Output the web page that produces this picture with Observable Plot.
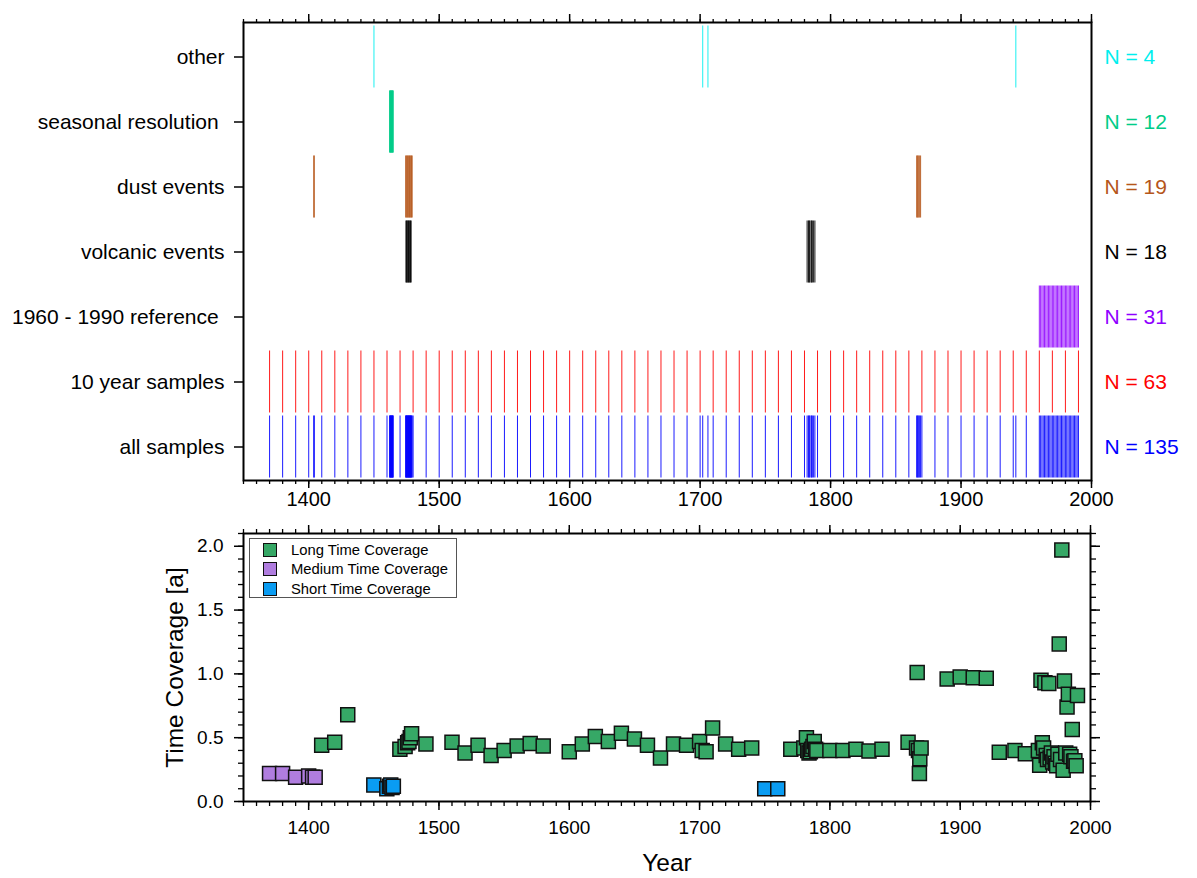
<!DOCTYPE html>
<html>
<head>
<meta charset="utf-8">
<script src="https://cdn.jsdelivr.net/npm/d3@7"></script>
<script src="https://cdn.jsdelivr.net/npm/@observablehq/plot@0.6"></script>
<style>
  html, body { margin: 0; padding: 0; background: #fff; }
  body { width: 1197px; height: 878px; position: relative; overflow: hidden; font-family: "Liberation Sans", Arial, sans-serif; }
  #topChart, #bottomChart { position: absolute; left: 0; }
  #topChart { top: 0; }
  #bottomChart { top: 520px; }
  #legend { position: absolute; left: 249px; top: 538px; width: 208px; height: 60px; border: 1px solid #555; background: #fff; box-sizing: border-box; }
  .lg { position: absolute; left: 0; height: 20px; font-size: 14.8px; line-height: 20px; color: #000; white-space: nowrap; }
  .lg .sq { position: absolute; left: 13px; top: 3px; width: 14px; height: 14px; box-sizing: border-box; border: 1.5px solid #111; }
  .lg span { position: absolute; left: 41px; top: 0; }
</style>
</head>
<body>
<div id="topChart"></div>
<div id="bottomChart"></div>
<div id="legend"></div>
<script>
// ---------- top panel data ----------
const categories = ["other", "seasonal resolution\u00a0", "dust events", "volcanic events", "1960 - 1990 reference\u00a0", "10 year samples", "all samples"];
const nLabels = ["N = 4", "N = 12", "N = 19", "N = 18", "N = 31", "N = 63", "N = 135"];
const rowColors = ["#00eeee", "#00cc88", "#b5561a", "#000000", "#8f00ff", "#ff0000", "#0000ff"];

const otherYears = [1450, 1702, 1706, 1942];
const seasonalYears = [1462, 1462.25, 1462.5, 1462.75, 1463, 1463.25, 1463.5, 1463.75, 1464, 1464.25, 1464.5, 1464.75];
const dustYears = [1403.8, 1404.3, 1474.3, 1474.8, 1475.3, 1475.8, 1476.3, 1476.8, 1477.3, 1477.8, 1478.3, 1478.8, 1479.3,
                   1866, 1866.5, 1867, 1867.6, 1868.3, 1869];
const volcanicYears = [1474.5, 1475, 1475.5, 1476, 1476.5, 1477, 1477.5, 1478, 1478.5,
                       1782, 1783, 1783.5, 1784, 1785, 1785.5, 1786, 1787, 1788];
const referenceYears = [1960, 1961, 1962, 1963, 1964, 1965, 1966, 1967, 1968, 1969, 1970, 1971, 1972, 1973, 1974, 1975,
                        1976, 1977, 1978, 1979, 1980, 1981, 1982, 1983, 1984, 1985, 1986, 1987, 1988, 1989, 1990];
const tenYearYears = [1370, 1380, 1390, 1400, 1410, 1420, 1430, 1440, 1450, 1460, 1470, 1480, 1490, 1500, 1510, 1520,
                      1530, 1540, 1550, 1560, 1570, 1580, 1590, 1600, 1610, 1620, 1630, 1640, 1650, 1660, 1670, 1680,
                      1690, 1700, 1710, 1720, 1730, 1740, 1750, 1760, 1770, 1780, 1790, 1800, 1810, 1820, 1830, 1840,
                      1850, 1860, 1870, 1880, 1890, 1900, 1910, 1920, 1930, 1940, 1950, 1960, 1970, 1980, 1990];

// ---------- bottom panel data ----------
const longYears = [1410, 1420, 1430, 1470, 1474, 1476, 1477, 1478, 1479, 1490, 1510, 1520, 1530, 1540, 1550, 1560,
                   1570, 1580, 1600, 1610, 1620, 1630, 1640, 1650, 1660, 1670, 1680, 1690, 1700, 1702, 1705, 1710,
                   1720, 1730, 1740, 1770, 1780, 1782, 1783, 1784, 1785, 1786, 1787, 1788, 1789, 1790, 1800, 1810,
                   1820, 1830, 1840, 1860, 1867, 1866.5, 1868, 1869, 1868.7, 1870, 1890, 1900, 1910, 1920, 1930,
                   1942, 1950, 1960, 1961, 1962, 1963, 1964, 1965, 1966, 1967, 1968, 1969, 1970, 1971, 1972, 1973,
                   1974, 1975, 1976, 1977, 1978, 1979, 1980, 1981, 1982, 1983, 1984, 1985, 1986, 1987, 1988, 1989, 1990];
const longValues = [0.44, 0.465, 0.68, 0.41, 0.43, 0.46, 0.47, 0.50, 0.53, 0.45, 0.465, 0.38, 0.44, 0.36, 0.40, 0.435,
                    0.455, 0.435, 0.39, 0.45, 0.51, 0.47, 0.535, 0.49, 0.44, 0.34, 0.45, 0.44, 0.47, 0.40, 0.39, 0.575,
                    0.45, 0.41, 0.42, 0.41, 0.42, 0.50, 0.40, 0.38, 0.39, 0.41, 0.43, 0.47, 0.41, 0.40, 0.40, 0.40,
                    0.41, 0.395, 0.41, 0.465, 1.01, 0.42, 0.40, 0.335, 0.22, 0.42, 0.96, 0.975, 0.97, 0.965, 0.385,
                    0.40, 0.375, 0.40, 0.285, 0.95, 0.46, 0.42, 0.93, 0.36, 0.33, 0.925, 0.34, 0.38, 0.31, 0.35, 0.30,
                    0.28, 0.37, 1.235, 0.33, 1.97, 0.245, 0.945, 0.38, 0.74, 0.84, 0.37, 0.35, 0.565, 0.315, 0.32, 0.28, 0.83];
const mediumYears = [1370, 1380, 1390, 1400, 1403, 1405];
const mediumValues = [0.22, 0.22, 0.19, 0.20, 0.19, 0.19];
const shortYears = [1450, 1460, 1462, 1463, 1464, 1465, 1750, 1760];
const shortValues = [0.13, 0.10, 0.12, 0.13, 0.11, 0.12, 0.10, 0.10];

const groupNames = ["Long Time Coverage", "Medium Time Coverage", "Short Time Coverage"];
const groupColors = ["#36a866", "#b07ddf", "#0a9cf2"];

const xMajorTicks = [1400, 1500, 1600, 1700, 1800, 1900, 2000];
const yMajorTicks = [0.0, 0.5, 1.0, 1.5, 2.0];
const yLabel = "Time Coverage [a]";
const xLabel = "Year";

// ---------- build tables ----------
const eventSets = [otherYears, seasonalYears, dustYears, volcanicYears, referenceYears, tenYearYears];
const allYears = Array.from(new Set(eventSets.flat())).sort((a, b) => a - b);
const events = [];
[...eventSets, allYears].forEach((ys, i) => ys.forEach(y => events.push({cat: categories[i], year: y, color: rowColors[i]})));
const rows = categories.map((c, i) => ({cat: c, n: nLabels[i], color: rowColors[i]}));

const pts = [];
[[longYears, longValues], [mediumYears, mediumValues], [shortYears, shortValues]].forEach(([xs, vs], g) =>
  xs.forEach((x, i) => pts.push({year: x, value: vs[i], group: groupNames[g]})));

const xMinor = d3.range(1350, 2001, 10);
const yMinor = d3.range(0, 2.101, 0.1);
const font = "Liberation Sans, Arial, sans-serif";

// ---------- top chart ----------
const topPlot = Plot.plot({
  width: 1197, height: 520,
  marginLeft: 243, marginRight: 106, marginTop: 22, marginBottom: 40,
  style: {fontFamily: font, color: "#000", background: "white"},
  x: {domain: [1350, 2000]},
  y: {domain: categories, padding: 0},
  color: {type: "identity"},
  marks: [
    Plot.tickX(events, {x: "year", y: "cat", stroke: "color", strokeWidth: 0.9, insetTop: 1.5, insetBottom: 1.5}),
    Plot.axisX({anchor: "bottom", ticks: xMajorTicks, tickSize: 8, tickPadding: 3, tickFormat: "d", fontSize: 20, strokeWidth: 1.5, label: null}),
    Plot.axisX({anchor: "bottom", ticks: xMinor, tickSize: 4, tickFormat: () => "", strokeWidth: 1.3, label: null}),
    Plot.axisX({anchor: "top", ticks: xMajorTicks, tickSize: 9, tickFormat: () => "", strokeWidth: 1.5, label: null}),
    Plot.axisX({anchor: "top", ticks: xMinor, tickSize: 4, tickFormat: () => "", strokeWidth: 1.3, label: null}),
    Plot.axisY({anchor: "left", tickSize: 9, tickPadding: 10, fontSize: 21, strokeWidth: 1.5, label: null}),
    Plot.text(rows, {y: "cat", text: "n", fill: "color", frameAnchor: "right", textAnchor: "start", dx: 13, fontSize: 21}),
    Plot.frame({stroke: "#000", strokeWidth: 2})
  ]
});
document.getElementById("topChart").appendChild(topPlot);

// ---------- bottom chart ----------
const bottomPlot = Plot.plot({
  width: 1197, height: 358,
  marginLeft: 243, marginRight: 107, marginTop: 13, marginBottom: 77,
  style: {fontFamily: font, color: "#000", background: "white"},
  x: {domain: [1350, 2000]},
  y: {domain: [0, 2.1]},
  color: {domain: groupNames, range: groupColors},
  marks: [
    Plot.dot(pts, {x: "year", y: "value", fill: "group", symbol: "square", r: 7.9, stroke: "#111", strokeWidth: 1.5}),
    Plot.axisX({anchor: "bottom", ticks: xMajorTicks, tickSize: 9, tickPadding: 10, tickFormat: "d", fontSize: 19, strokeWidth: 1.5, label: null}),
    Plot.axisX({anchor: "bottom", ticks: xMinor, tickSize: 5, tickFormat: () => "", strokeWidth: 1.3, label: null}),
    Plot.axisX({anchor: "top", ticks: xMajorTicks, tickSize: 9, tickFormat: () => "", strokeWidth: 1.5, label: null}),
    Plot.axisX({anchor: "top", ticks: xMinor, tickSize: 5, tickFormat: () => "", strokeWidth: 1.3, label: null}),
    Plot.axisY({anchor: "left", ticks: yMajorTicks, tickSize: 9, tickPadding: 11, tickFormat: ".1f", fontSize: 19, strokeWidth: 1.5, label: null}),
    Plot.axisY({anchor: "left", ticks: yMinor, tickSize: 5, tickFormat: () => "", strokeWidth: 1.3, label: null}),
    Plot.axisY({anchor: "right", ticks: yMajorTicks, tickSize: 9, tickFormat: () => "", strokeWidth: 1.5, label: null}),
    Plot.axisY({anchor: "right", ticks: yMinor, tickSize: 5, tickFormat: () => "", strokeWidth: 1.3, label: null}),
    Plot.text([yLabel], {text: d => d, frameAnchor: "left", rotate: -90, dx: -68, fontSize: 24.5, textAnchor: "middle", lineAnchor: "middle"}),
    Plot.text([xLabel], {text: d => d, frameAnchor: "bottom", dy: 62, fontSize: 24.5, textAnchor: "middle", lineAnchor: "middle"}),
    Plot.frame({stroke: "#000", strokeWidth: 2})
  ]
});
document.getElementById("bottomChart").appendChild(bottomPlot);

// ---------- legend ----------
const legend = document.getElementById("legend");
groupNames.forEach((name, i) => {
  const row = document.createElement("div");
  row.className = "lg";
  row.style.top = (1 + i * 19.4) + "px";
  row.innerHTML = `<div class="sq" style="background:${groupColors[i]}"></div><span>${name}</span>`;
  legend.appendChild(row);
});
</script>
</body>
</html>
